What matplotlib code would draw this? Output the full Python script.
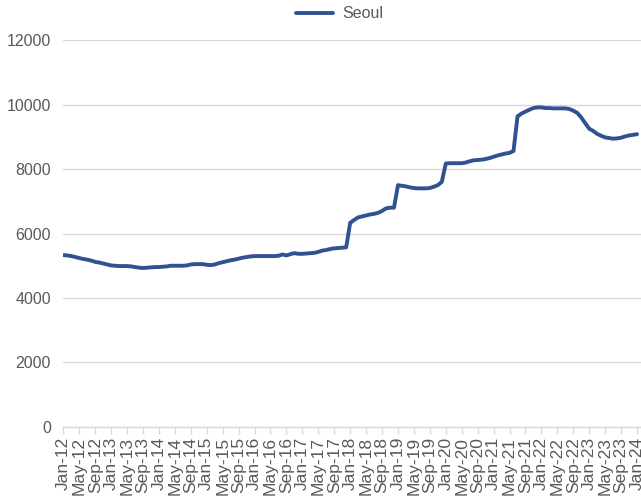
import numpy as np
import matplotlib.pyplot as plt

# Monthly values, Jan-12 .. Jan-24
seoul = [
    5330, 5320, 5300, 5270, 5240, 5210, 5190, 5160, 5120, 5100, 5070, 5040,  # 2012
    5010, 5000, 4990, 4990, 4990, 4980, 4960, 4940, 4930, 4940, 4950, 4960,  # 2013
    4960, 4970, 4980, 5000, 5000, 5000, 5000, 5010, 5040, 5050, 5050, 5050,  # 2014
    5030, 5020, 5040, 5080, 5110, 5140, 5170, 5190, 5220, 5250, 5270, 5290,  # 2015
    5300, 5300, 5300, 5300, 5300, 5300, 5310, 5350, 5320, 5360, 5390, 5370,  # 2016
    5370, 5380, 5390, 5400, 5430, 5470, 5490, 5520, 5540, 5550, 5560, 5570,  # 2017
    6330, 6420, 6500, 6530, 6560, 6590, 6610, 6640, 6700, 6780, 6800, 6800,  # 2018
    7500, 7480, 7460, 7430, 7410, 7400, 7400, 7400, 7410, 7450, 7500, 7600,  # 2019
    8170, 8180, 8180, 8180, 8180, 8200, 8240, 8270, 8280, 8290, 8310, 8340,  # 2020
    8380, 8420, 8450, 8480, 8500, 8560, 9630, 9720, 9780, 9840, 9890, 9910,  # 2021
    9910, 9890, 9890, 9880, 9880, 9880, 9880, 9860, 9810, 9740, 9600, 9420,  # 2022
    9250, 9180, 9090, 9030, 8980, 8960, 8940, 8950, 8970, 9010, 9040, 9060,  # 2023
    9080,                                                                    # 2024
]

months = ['Jan', 'May', 'Sep']
tick_labels = [f'{m}-{y:02d}' for y in range(12, 24) for m in months] + ['Jan-24']
yticks = [0, 2000, 4000, 6000, 8000, 10000, 12000]

plt.rcParams['font.family'] = ['Liberation Sans', 'DejaVu Sans']

fig = plt.figure(figsize=(6.41, 4.99), dpi=100)
ax = fig.add_axes([0.0988, 0.1443, 0.9012, 0.7755])

x = np.arange(len(seoul))
ax.plot(x, seoul, color='#2F5290', linewidth=2.8, label='Seoul',
        solid_joinstyle='round', solid_capstyle='round')

ax.set_xlim(0, 145)
ax.set_ylim(0, 12000)
ax.set_yticks(yticks)
ax.set_xticks(np.arange(0, 145, 4))
ax.set_xticklabels(tick_labels, rotation=90)

ax.grid(axis='y', color='#D9D9D9', linewidth=1.0)
ax.set_axisbelow(True)
for side in ['left', 'right', 'top']:
    ax.spines[side].set_visible(False)
ax.spines['bottom'].set_color('#D9D9D9')
ax.spines['bottom'].set_linewidth(1.0)

ax.tick_params(axis='y', length=0, pad=9, labelsize=11.5, labelcolor='#595959')
ax.tick_params(axis='x', length=5, width=1.0, color='#D9D9D9', pad=2,
               labelsize=12.5, labelcolor='#595959')

fig.legend(loc='center', bbox_to_anchor=(0.53, 0.972), frameon=False,
           fontsize=11.5, labelcolor='#595959', handlelength=2.3, handletextpad=0.6)

plt.savefig('out.png', dpi=100)
